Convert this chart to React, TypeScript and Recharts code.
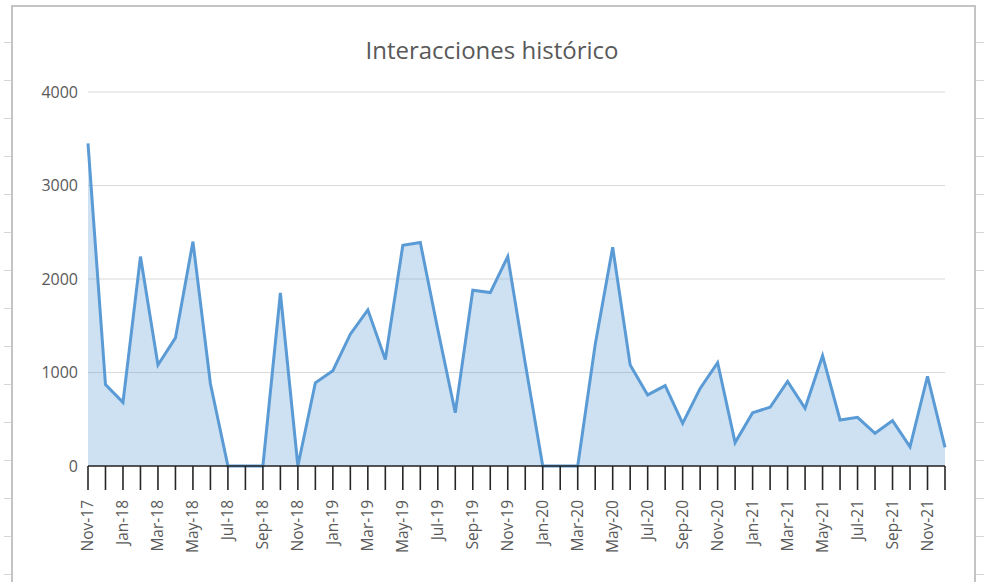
import { AreaChart, Area, XAxis, YAxis, CartesianGrid } from 'recharts';

const months = [
  'Nov-17', 'Dec-17',
  'Jan-18', 'Feb-18', 'Mar-18', 'Apr-18', 'May-18', 'Jun-18', 'Jul-18', 'Aug-18', 'Sep-18', 'Oct-18', 'Nov-18', 'Dec-18',
  'Jan-19', 'Feb-19', 'Mar-19', 'Apr-19', 'May-19', 'Jun-19', 'Jul-19', 'Aug-19', 'Sep-19', 'Oct-19', 'Nov-19', 'Dec-19',
  'Jan-20', 'Feb-20', 'Mar-20', 'Apr-20', 'May-20', 'Jun-20', 'Jul-20', 'Aug-20', 'Sep-20', 'Oct-20', 'Nov-20', 'Dec-20',
  'Jan-21', 'Feb-21', 'Mar-21', 'Apr-21', 'May-21', 'Jun-21', 'Jul-21', 'Aug-21', 'Sep-21', 'Oct-21', 'Nov-21', 'Dec-21',
];

const interacciones = [
  3450, 870,
  680, 2240, 1080, 1370, 2400, 880, 0, 0, 0, 1850, 0, 890,
  1020, 1410, 1670, 1140, 2360, 2390, 1460, 570, 1880, 1855, 2240, 1100,
  0, 0, 0, 1300, 2340, 1080, 760, 860, 456, 830, 1105, 250,
  570, 628, 905, 617, 1180, 492, 521, 350, 485, 206, 960, 200,
];

const yTicks = [0, 1000, 2000, 3000, 4000];

const chartData = months.map((month, i) => ({ month, value: interacciones[i] }));

const FONT = '"Open Sans", sans-serif';
const TEXT = '#595959';

// only every second month gets a label, but every month keeps its tick line
const MonthTick = (props: any) => {
  const { x, y, payload } = props;
  const idx = months.indexOf(payload.value);
  if (idx % 2 !== 0) return <g />;
  return (
    <g transform={`translate(${x},${y})`}>
      <text
        transform="rotate(-90)"
        textAnchor="end"
        dy="0.35em"
        fill={TEXT}
        fontSize={15.5}
        fontFamily={FONT}
      >
        {payload.value}
      </text>
    </g>
  );
};

const rowMarks = Array.from({ length: 15 }, (_, i) => 42 + i * 38);

export default function App() {
  return (
    <div style={{ position: 'absolute', left: 0, top: 0, width: 984, height: 582, overflow: 'hidden', background: '#fff' }}>
      {rowMarks.map((y) => (
        <div key={'l' + y} style={{ position: 'absolute', left: 4, top: y, width: 7, height: 1, background: '#d6d6d6' }} />
      ))}
      {rowMarks.map((y) => (
        <div key={'r' + y} style={{ position: 'absolute', left: 976, top: y, width: 8, height: 1, background: '#d6d6d6' }} />
      ))}
      <div
        style={{
          position: 'absolute',
          left: 11,
          top: 5,
          width: 961,
          height: 620,
          border: '2px solid #c4c4c4',
          background: '#fff',
        }}
      />
      <div
        style={{
          position: 'absolute',
          left: 0,
          width: 984,
          top: 33,
          textAlign: 'center',
          fontFamily: FONT,
          fontSize: 24,
          color: TEXT,
          lineHeight: '34px',
        }}
      >
        Interacciones histórico
      </div>
      <div style={{ position: 'absolute', left: 0, top: 0 }}>
        <AreaChart width={984} height={582} data={chartData} margin={{ top: 92, right: 39, left: 0, bottom: 0 }}>
          <CartesianGrid vertical={false} stroke="#d9d9d9" strokeWidth={1.2} />
          <XAxis
            dataKey="month"
            interval={0}
            height={116}
            tickSize={24}
            tickMargin={10}
            tick={<MonthTick />}
            tickLine={{ stroke: '#262626', strokeWidth: 1.6 }}
            axisLine={{ stroke: '#262626', strokeWidth: 1.6 }}
          />
          <YAxis
            width={88}
            domain={[0, 4000]}
            ticks={yTicks}
            axisLine={false}
            tickLine={false}
            tickMargin={4}
            tick={{ fill: TEXT, fontSize: 16, fontFamily: FONT }}
          />
          <Area
            type="linear"
            dataKey="value"
            stroke="#5b9bd5"
            strokeWidth={3}
            fill="#5b9bd5"
            fillOpacity={0.3}
            isAnimationActive={false}
          />
        </AreaChart>
      </div>
    </div>
  );
}
